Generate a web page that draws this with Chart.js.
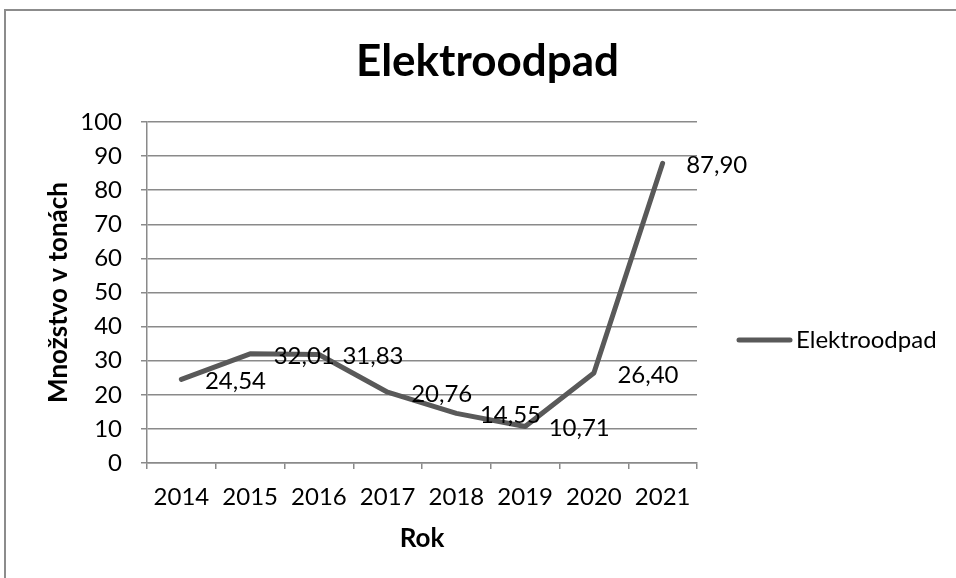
<!DOCTYPE html>
<html>
<head>
<meta charset="utf-8">
<script src="https://cdn.jsdelivr.net/npm/chart.js@4/dist/chart.umd.min.js"></script>
<style>
  html, body { margin: 0; padding: 0; background: #fff; }
  #wrap { position: relative; width: 956px; height: 578px; }
</style>
</head>
<body>
<div id="wrap"><canvas id="c" width="956" height="578"></canvas></div>
<script>
const chartTitle = 'Elektroodpad';
const seriesName = 'Elektroodpad';
const years = ['2014', '2015', '2016', '2017', '2018', '2019', '2020', '2021'];
const values = [24.54, 32.01, 31.83, 20.76, 14.55, 10.71, 26.40, 87.90];
const xAxisTitle = 'Rok';
const yAxisTitle = 'Množstvo v tonách';
const yMin = 0, yMax = 100, yStep = 10;

const FONT = 'Lato, "Open Sans", "Noto Sans", sans-serif';
const LINE_COLOR = '#595959';
const GRID_COLOR = '#8a8a8a';

const fmt = v => v.toFixed(2).replace('.', ',');

const decorPlugin = {
  id: 'decor',
  beforeDraw(chart) {
    const ctx = chart.ctx;
    ctx.save();
    ctx.fillStyle = '#fff';
    ctx.fillRect(0, 0, chart.width, chart.height);
    ctx.strokeStyle = '#8c8c8c';
    ctx.lineWidth = 2;
    ctx.strokeRect(5, 10, chart.width + 20, chart.height + 20);
    ctx.restore();
  },
  afterDraw(chart) {
    const ctx = chart.ctx;
    const ds = chart.data.datasets[0];
    ctx.save();
    // title
    ctx.fillStyle = '#000';
    ctx.font = 'bold 44px ' + FONT;
    ctx.textAlign = 'center';
    ctx.textBaseline = 'alphabetic';
    ctx.fillText(chartTitle, 487.5, 76);
    // data labels
    ctx.font = '24px ' + FONT;
    ctx.textAlign = 'left';
    const meta = chart.getDatasetMeta(0);
    meta.data.forEach((pt, i) => {
      ctx.fillText(fmt(ds.data[i]), pt.x + 23.5, pt.y + 10);
    });
    // legend
    const lx = chart.chartArea.right + 40;
    ctx.strokeStyle = ds.borderColor;
    ctx.lineWidth = ds.borderWidth;
    ctx.lineCap = 'round';
    ctx.beginPath();
    ctx.moveTo(lx + 2, 340);
    ctx.lineTo(lx + 53, 340);
    ctx.stroke();
    ctx.fillText(ds.label, lx + 59, 348);
    ctx.restore();
  }
};

new Chart(document.getElementById('c'), {
  type: 'line',
  data: {
    labels: years,
    datasets: [{
      label: seriesName,
      data: values,
      borderColor: LINE_COLOR,
      backgroundColor: LINE_COLOR,
      borderWidth: 5,
      borderJoinStyle: 'round',
      borderCapStyle: 'round',
      pointRadius: 0,
      pointHoverRadius: 0,
      tension: 0,
      fill: false
    }]
  },
  options: {
    responsive: false,
    animation: false,
    events: [],
    layout: { padding: { left: 0, right: 259, top: 122, bottom: 0 } },
    plugins: {
      legend: { display: false },
      title: { display: false },
      tooltip: { enabled: false }
    },
    scales: {
      x: {
        type: 'category',
        offset: true,
        afterFit: s => { s.height = 115; },
        grid: {
          display: true,
          offset: true,
          drawOnChartArea: false,
          drawTicks: true,
          tickLength: 6,
          color: GRID_COLOR,
          lineWidth: 1.5
        },
        border: { display: true, color: GRID_COLOR, width: 1.5 },
        ticks: {
          color: '#000',
          font: { family: FONT, size: 24 },
          padding: 14,
          maxRotation: 0,
          autoSkip: false
        },
        title: {
          display: true,
          text: xAxisTitle,
          color: '#000',
          font: { family: FONT, size: 26, weight: 'bold' },
          padding: { top: 0, bottom: 24 }
        }
      },
      y: {
        min: yMin,
        max: yMax,
        afterFit: s => { s.width = 147; },
        grid: {
          color: GRID_COLOR,
          lineWidth: 1.5,
          tickLength: 6
        },
        border: { display: true, color: GRID_COLOR, width: 1.5 },
        ticks: {
          stepSize: yStep,
          color: '#000',
          font: { family: FONT, size: 24 },
          padding: 19
        },
        title: {
          display: true,
          text: yAxisTitle,
          color: '#000',
          font: { family: FONT, size: 26, weight: 'bold' },
          padding: { top: 43, bottom: 0 }
        }
      }
    }
  },
  plugins: [decorPlugin]
});
</script>
</body>
</html>
